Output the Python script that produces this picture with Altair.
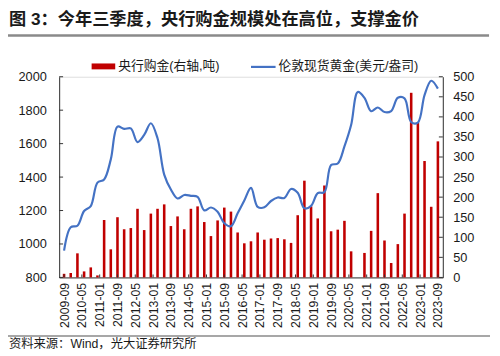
import json
import altair as alt
import pandas as pd

# ---------------- data ----------------
quarters = [str(p) for p in pd.period_range("2009Q3", "2023Q3", freq="Q")]  # 57 quarters

# 央行购金 (吨), right axis
cb_tonnes = [9, 11, 60, 15, 25, 5, 143, 70, 150, 120, 123, 171, 118, 159, 171, 182,
             128, 152, 120, 171, 177, 138, 103, 142, 174, 164, 112, 85, 90, 112, 94,
             97, 98, 95, 86, 155, 241, 177, 147, 229, 115, 119, 141, 65, 0, 61, 116,
             210, 92, 36, 83, 159, 460, 386, 290, 176, 339]

# 伦敦现货黄金 (美元/盎司), left axis
gold_price = [960, 1100, 1109, 1197, 1227, 1367, 1386, 1506, 1702, 1688, 1691, 1609,
              1652, 1722, 1632, 1415, 1326, 1272, 1293, 1288, 1282, 1201, 1218, 1192,
              1124, 1106, 1183, 1260, 1335, 1222, 1219, 1257, 1278, 1275, 1329, 1306,
              1213, 1228, 1304, 1310, 1472, 1481, 1583, 1711, 1909, 1874, 1794, 1816,
              1789, 1795, 1874, 1871, 1729, 1726, 1890, 1976, 1929]

x_tick_labels = ["2009-09", "2010-05", "2011-01", "2011-09", "2012-05", "2013-01",
                 "2013-09", "2014-05", "2015-01", "2015-09", "2016-05", "2017-01",
                 "2017-09", "2018-05", "2019-01", "2019-09", "2020-05", "2021-01",
                 "2021-09", "2022-05", "2023-01", "2023-09"]
left_ticks = [800, 1000, 1200, 1400, 1600, 1800, 2000]
right_ticks = [0, 50, 100, 150, 200, 250, 300, 350, 400, 450, 500]

title_text = "图 3：今年三季度，央行购金规模处在高位，支撑金价"
legend_bar = "央行购金(右轴,吨)"
legend_line = "伦敦现货黄金(美元/盎司)"
source_text = "资料来源：Wind，光大证券研究所"


def month_offset(label):
    y, m = label.split("-")
    return (int(y) - 2009) * 12 + int(m) - 9


def quarter_offset(q):
    y = int(q[:4]); qq = int(q[-1])
    return (y - 2009) * 12 + qq * 3 - 9


df = pd.DataFrame({
    "m": [quarter_offset(q) for q in quarters],
    "t": cb_tonnes,
    "p": gold_price,
})
tick_vals = [month_offset(l) for l in x_tick_labels]

FONT = "Liberation Sans, Noto Sans CJK SC, sans-serif"
TXT = "#1a1a1a"
AXC = "#333333"
W, H = 390, 204
LEFT_DOM = [800, 2000]
RIGHT_DOM = [0, 500]

x_axis = alt.Axis(values=tick_vals,
                  labelExpr=json.dumps(x_tick_labels) + "[round(datum.value/8)]",
                  labelAngle=270, labelAlign="right", labelBaseline="middle",
                  labelPadding=5, ticks=False, domainColor=AXC, domainWidth=1,
                  labelFont=FONT, labelFontSize=12.5, labelColor=TXT,
                  title=None, grid=False, labelOverlap=False, labelFlush=False)
x_scale = alt.Scale(domain=[0, 168], nice=False, zero=False)
x_enc = alt.X("m:Q", scale=x_scale, axis=x_axis)

bars = alt.Chart(df).mark_bar(size=2.6, color="#C00000").encode(
    x=x_enc,
    y=alt.Y("t:Q", scale=alt.Scale(domain=RIGHT_DOM, nice=False),
            axis=alt.Axis(orient="right", values=right_ticks, title=None, grid=False,
                          ticks=False, labelPadding=10, domainColor=AXC, format="d",
                          labelFont=FONT, labelFontSize=13, labelColor=TXT)),
)

line = alt.Chart(df).mark_line(interpolate="catmull-rom", color="#4472C4",
                               strokeWidth=2.2).encode(
    x=x_enc,
    y=alt.Y("p:Q", scale=alt.Scale(domain=LEFT_DOM, nice=False, zero=False),
            axis=alt.Axis(orient="left", values=left_ticks, title=None, grid=False,
                          ticks=False, labelPadding=13, domainColor=AXC, format="d",
                          labelFont=FONT, labelFontSize=13, labelColor=TXT)),
)

# inward tick marks (as in the reference)
lt = alt.Chart(pd.DataFrame({"v": left_ticks})).mark_rule(color=AXC, strokeWidth=1).encode(
    y=alt.Y("v:Q", scale=alt.Scale(domain=LEFT_DOM, nice=False, zero=False), axis=None),
    x=alt.value(0), x2=alt.value(4))
rt = alt.Chart(pd.DataFrame({"v": right_ticks})).mark_rule(color=AXC, strokeWidth=1).encode(
    y=alt.Y("v:Q", scale=alt.Scale(domain=RIGHT_DOM, nice=False), axis=None),
    x=alt.value(W - 4), x2=alt.value(W))
xt = alt.Chart(pd.DataFrame({"m": tick_vals})).mark_rule(color=AXC, strokeWidth=1).encode(
    x=x_enc, y=alt.value(H - 3), y2=alt.value(H))

one = pd.DataFrame({"a": [0]})

title = alt.Chart(one).mark_text(text=title_text, font=FONT, fontSize=17.5,
                                 fontWeight="bold", color=TXT, align="left",
                                 baseline="middle").encode(
    x=alt.value(-51), y=alt.value(-57.5))
title_rule = alt.Chart(one).mark_rule(color="#8a8a8a", strokeWidth=2.5).encode(
    x=alt.value(-52), x2=alt.value(437), y=alt.value(-42))

leg_rect = alt.Chart(one).mark_rect(color="#C00000").encode(
    x=alt.value(33), x2=alt.value(57), y=alt.value(-13.5), y2=alt.value(-7.5))
leg_text1 = alt.Chart(one).mark_text(text=legend_bar, font=FONT, fontSize=13,
                                     color=TXT, align="left", baseline="middle").encode(
    x=alt.value(60), y=alt.value(-10.5))
leg_line = alt.Chart(one).mark_rule(color="#4472C4", strokeWidth=2.2).encode(
    x=alt.value(195), x2=alt.value(220), y=alt.value(-10))
leg_text2 = alt.Chart(one).mark_text(text=legend_line, font=FONT, fontSize=13,
                                     color=TXT, align="left", baseline="middle").encode(
    x=alt.value(223), y=alt.value(-10.5))

bottom_rule = alt.Chart(one).mark_rule(color="#8a8a8a", strokeWidth=1.5).encode(
    x=alt.value(-52), x2=alt.value(438), y=alt.value(263.5))
source = alt.Chart(one).mark_text(text=source_text, font=FONT, fontSize=12.5,
                                  color=TXT, align="left", baseline="middle").encode(
    x=alt.value(-51), y=alt.value(271.5))

chart = alt.layer(bars, line, lt, rt, xt, title, title_rule, leg_rect, leg_text1,
                  leg_line, leg_text2, bottom_rule, source).resolve_scale(
    y="independent"
).properties(
    width=W, height=H,
    autosize=alt.AutoSizeParams(type="none"),
    padding={"left": 52, "top": 67, "right": 50, "bottom": 77},
).configure_view(stroke=None).configure(background="white")

chart.save("out.html", embed_options={"renderer": "svg", "actions": False})
